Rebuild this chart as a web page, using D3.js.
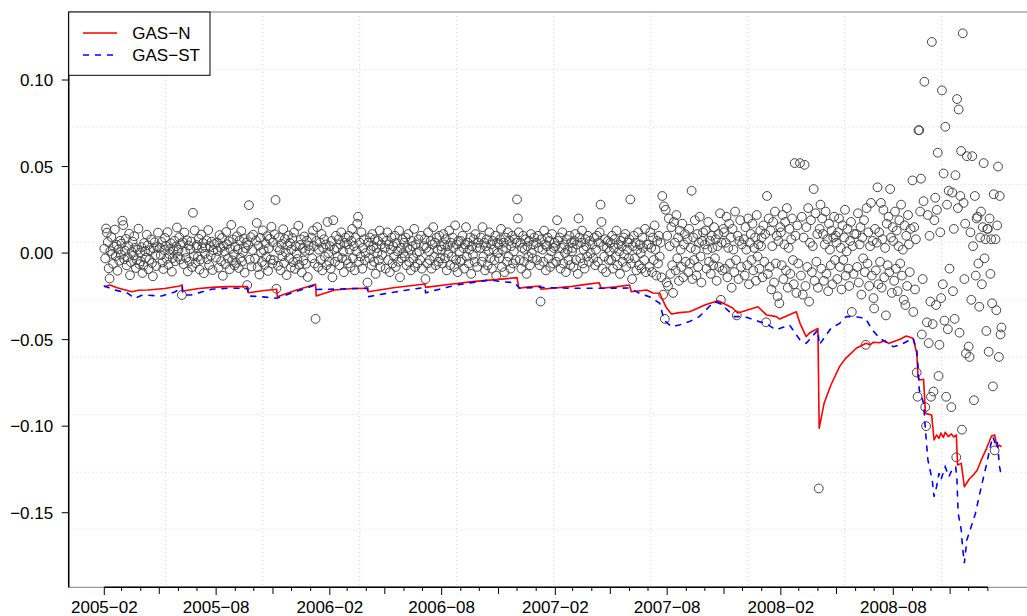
<!DOCTYPE html>
<html>
<head>
<meta charset="utf-8">
<script src="https://cdn.jsdelivr.net/npm/d3@7"></script>
<style>
  body { margin: 0; background: #fff; }
  svg { display: block; font-family: "Liberation Sans", Arial, sans-serif; }
</style>
</head>
<body>
<div id="chart"></div>
<script>
// months of daily returns, values in percent, in date order inside each month
const months = [
  '2005-02','2005-03','2005-04','2005-05','2005-06','2005-07','2005-08','2005-09','2005-10','2005-11','2005-12',
  '2006-01','2006-02','2006-03','2006-04','2006-05','2006-06','2006-07','2006-08','2006-09','2006-10','2006-11','2006-12',
  '2007-01','2007-02','2007-03','2007-04','2007-05','2007-06','2007-07','2007-08','2007-09','2007-10','2007-11','2007-12',
  '2008-01','2008-02','2008-03','2008-04','2008-05','2008-06','2008-07','2008-08','2008-09','2008-10','2008-11','2008-12',
  '2009-01'
];
const lastDay = '2009-01-23';

const returns = [
  [0.25,-0.31,1.42,1.18,0.64,-0.88,-1.47,0.12,0.93,-0.05,-0.62,0.38,1.36,-0.17,0.48,-1.02,0.21,-0.44,0.71,-0.09],
  [0.55,1.87,1.62,-0.36,0.14,0.82,-0.71,-0.23,0.41,1.12,-1.28,-0.52,0.07,0.66,-0.14,0.97,0.31,-0.86,-0.41,0.19,1.41,-0.64,0.03],
  [-0.48,0.34,-1.15,-0.72,0.58,0.11,-0.27,1.06,0.45,-0.93,-0.39,0.16,0.79,-0.58,-1.34,0.27,0.62,-0.11,-0.75,0.36,1.18],
  [0.31,-0.12,0.64,-0.54,-0.92,0.18,0.87,0.42,-0.33,1.21,-0.68,-0.06,0.24,0.56,-1.07,-0.29,0.13,0.71,-0.47,0.39,1.48,-0.21],
  [0.18,0.92,-0.37,0.51,-2.42,0.62,-0.64,1.19,0.08,-0.28,0.75,-1.06,0.44,-0.49,0.23,0.67,-0.81,2.33,-0.19,1.31,-0.57,0.35],
  [0.46,-0.21,0.83,-0.95,-0.38,1.07,0.29,0.58,-1.16,-0.04,0.34,0.74,-0.36,1.33,-0.69,0.41,-0.14,0.66,-0.98,0.17,0.52],
  [-0.26,0.61,0.12,-0.84,1.04,0.33,-0.47,0.88,-1.31,0.42,0.09,-0.63,1.22,0.51,-0.31,0.69,-0.93,0.24,1.63,-0.42,0.79,-0.08,-0.71],
  [0.38,-0.57,0.97,0.21,-0.86,0.73,-0.28,1.27,-0.49,0.06,0.84,-1.13,0.29,0.61,-1.85,0.47,2.77,-0.38,0.92,-0.77,0.18,1.06],
  [-0.33,0.72,1.74,-0.81,0.43,-1.24,0.88,0.04,-0.52,1.31,0.17,-0.69,0.57,-0.22,0.98,-1.03,0.28,0.83,-0.37,1.52,-0.61],
  [0.62,-0.41,1.08,3.07,-2.06,0.34,-0.73,0.91,0.16,-0.99,0.53,-0.18,1.38,-0.57,0.81,0.03,-1.27,0.44,1.02,-0.29,0.58,-0.83],
  [0.21,0.87,-0.53,1.19,-0.91,0.39,-0.02,-0.34,1.58,-0.68,0.47,0.79,-1.12,0.26,-0.43,0.96,0.13,-0.62,0.72,-1.38,0.41,0.17],
  [0.9,-0.3,1.3,0.4,-0.6,-3.8,0.7,1.5,-0.8,0.2,0.6,-0.4,1.1,-1.0,0.3,0.8,-0.2,0.5,-0.7,1.8,0.0,-0.5],
  [0.4,-0.9,0.7,-1.4,1.9,0.2,-0.5,1.0,0.3,-0.2,0.8,-0.7,0.5,1.2,-0.3,0.1,-1.1,0.6,0.9,-0.4],
  [0.5,-0.6,1.0,0.2,-0.8,0.7,1.4,-0.3,0.4,-1.0,0.9,0.1,1.7,2.1,-0.5,0.6,-0.2,1.2,-0.9,0.3,0.8,-0.4,0.0],
  [-1.7,0.6,-0.3,0.9,0.2,-0.7,1.1,0.4,-0.5,0.8,-1.2,0.3,0.0,0.7,-0.4,1.3,-0.8,0.5,-0.1,0.9],
  [0.3,-0.9,0.7,1.2,-0.4,0.5,-1.1,0.2,0.9,-0.6,0.4,-0.2,1.0,-0.8,0.6,0.1,-0.5,1.3,-1.4,0.3,-0.3,0.8,0.0],
  [0.6,-0.2,0.9,-0.7,0.3,1.1,-0.5,0.2,-1.0,0.7,0.4,-0.3,1.4,-0.8,0.5,0.0,-0.6,0.8,0.1,-0.4,1.0,-0.9],
  [0.4,0.8,-1.5,0.3,-0.6,1.2,0.1,-0.4,0.7,-0.9,0.5,1.5,-0.2,0.6,-0.7,0.9,0.2,-0.5,1.0,-0.3,0.4],
  [0.2,-0.6,1.1,0.5,-0.3,0.8,-1.0,0.4,0.0,1.3,-0.7,0.6,-0.2,0.9,0.3,-0.8,1.6,-0.4,0.5,-1.1,0.7,0.1,-0.5],
  [0.7,-0.4,1.0,0.3,-0.9,0.5,1.5,-0.2,0.6,-0.6,0.2,0.9,-1.2,0.4,-0.1,0.8,-0.5,1.1,0.3,-0.8,0.6],
  [0.3,0.9,-0.5,1.5,-0.2,0.6,-1.0,0.4,0.8,-0.7,0.1,1.2,-0.3,0.5,-0.9,0.7,0.2,-0.4,1.0,-1.3,0.6,0.0],
  [0.5,-0.3,0.8,1.4,-0.8,0.2,0.6,-1.1,0.9,0.3,-0.5,1.2,-0.2,0.7,-0.9,0.4,1.0,-0.6,0.1,0.8,-0.4,0.6],
  [3.1,2.0,1.2,-0.4,0.6,-0.9,0.3,1.0,-0.5,0.2,0.8,-1.2,0.4,-0.2,0.7,-0.7,1.1,0.0,-0.3,0.5,0.9],
  [0.6,-0.4,1.0,0.3,-0.7,-2.8,0.8,0.2,-0.5,1.3,0.5,-1.0,0.4,0.9,-0.3,0.7,-0.8,0.1,1.1,-0.6,0.3,0.6],
  [0.4,-0.5,1.9,0.7,-0.2,0.9,-0.9,0.3,1.2,-0.6,0.5,0.0,-1.1,0.8,0.2,-0.4,1.0,-0.7,0.6,0.1],
  [0.3,-0.8,0.7,1.1,-0.4,0.5,-1.2,2.0,0.9,-0.3,0.6,1.3,-0.6,0.2,-0.9,0.8,0.4,-0.2,1.0,-0.5,0.7,0.0],
  [0.5,-0.3,0.9,-0.7,0.2,1.0,-0.5,0.6,1.2,2.8,1.8,-0.9,0.4,-0.2,0.8,-1.1,0.3,0.7,-0.4,0.1],
  [0.6,-0.4,1.0,-0.9,0.3,0.8,-0.2,1.3,-0.7,0.5,0.1,-1.2,0.7,0.4,-0.5,0.9,-0.1,1.1,-0.8,0.2,0.6,-0.3],
  [0.8,3.1,-0.6,-1.5,0.4,1.0,-0.3,0.6,-1.0,0.2,1.2,-0.7,0.5,0.0,-0.9,0.9,0.3,-0.4,1.4,-1.1,0.5],
  [0.5,-0.8,1.2,0.3,-1.1,0.9,-0.4,1.6,0.2,-1.3,0.7,-0.6,1.0,-0.2,0.6,-1.4,3.3,-2.4,2.7,-3.8,2.5,-1.7],
  [1.0,-1.9,2.0,0.4,-1.2,1.5,-0.7,-2.3,1.8,0.6,-1.0,2.2,-0.3,0.9,-1.6,1.3,0.2,-0.8,1.7,-1.4,0.5,1.1,-0.5],
  [0.8,-1.1,1.4,-0.6,0.3,3.6,-1.5,0.9,-0.4,1.9,0.2,-1.3,1.1,-0.8,0.6,2.1,-0.2,-1.7,0.7,1.2],
  [0.5,1.3,-0.9,0.2,1.8,-0.5,0.7,-1.2,1.0,0.3,-0.7,1.5,-0.3,0.8,-1.6,0.4,1.1,-0.8,2.3,-2.7,0.6,-1.0,1.4],
  [1.2,-0.9,0.6,2.1,-1.4,0.3,1.7,-0.6,0.9,-2.0,1.4,0.2,-1.1,2.4,-0.4,-3.6,1.0,-1.5,0.7,1.9,-0.8,0.5],
  [0.8,-1.3,1.5,0.2,-0.7,2.0,-1.8,0.6,1.1,-0.4,1.7,-1.0,0.3,0.9,-1.6,2.2,-0.2,0.5,-0.9,1.3,0.4],
  [0.9,-1.4,1.6,-0.5,1.1,-4.0,3.3,-1.2,2.0,-0.8,1.3,-2.1,0.4,1.8,-1.7,2.4,-0.6,1.0,-2.5,0.7,-2.9,1.5],
  [1.2,-0.7,2.2,-1.5,0.5,1.8,-1.0,2.6,-2.0,0.3,1.4,-1.2,0.8,2.0,-0.4,-1.8,5.2,1.0,-2.3,1.6,-0.6],
  [5.2,-1.3,2.1,-2.4,0.9,5.1,-1.9,1.5,-0.8,2.6,-2.8,0.6,1.9,-1.1,0.4,3.7,-1.6,2.3,-0.5,1.1],
  [-2.0,-13.6,1.4,2.8,-0.9,2.0,1.1,-1.6,0.5,2.4,-1.2,0.8,-2.2,1.7,0.2,-0.7,1.3,-1.8,0.9,2.1,-0.4,1.0],
  [0.6,-1.5,1.2,2.0,-0.8,0.3,-2.1,1.6,-0.4,0.9,2.5,-1.3,0.1,1.4,-0.9,-1.9,0.7,1.8,-3.4,0.4,-1.2,1.1],
  [1.1,-0.8,2.3,-1.7,0.5,1.5,-2.4,0.9,-0.3,1.9,-1.1,-5.3,2.6,-0.6,1.2,-1.9,0.4,2.9,-1.3,0.7,-2.6],
  [-3.2,1.4,-1.0,0.6,3.8,-1.8,1.2,-0.5,2.9,-2.0,0.8,2.5,-1.4,0.3,-3.6,1.7,-0.7,2.1,-1.1,3.7,0.9,-2.3,1.5],
  [0.7,-1.6,2.4,-0.9,1.3,-2.2,0.4,1.9,-0.6,2.8,-1.3,0.2,-2.7,1.6,-3.0,1.0,-1.9,2.2,0.5,-1.1,1.4],
  [4.2,-3.4,1.5,-2.1,0.8,-6.9,-8.3,7.1,7.1,2.4,4.3,-4.7,-1.5,3.0,9.9,-8.9,-10.0,-4.0,2.2,-5.2,1.0,-2.8],
  [-8.3,12.2,-4.1,-8.0,1.9,3.2,-3.0,2.5,5.8,-7.1,-5.3,1.2,-2.6,9.4,-1.8,4.6,-3.9,7.3,-8.3,2.8,-4.4,3.6,-0.9],
  [-8.9,3.5,-2.2,1.4,-3.8,4.5,-11.8,8.9,2.6,8.3,-4.6,3.3,5.9,-10.2,12.7,2.9,-1.5,1.7,-5.8,5.6],
  [-5.4,-6.0,1.2,-2.7,5.6,0.4,-8.5,3.3,-1.3,2.0,2.1,-0.6,-3.1,0.9,2.4,-1.8,1.5,5.2,-0.3,0.8,-4.5,1.4],
  [1.4,-5.7,2.0,-1.2,0.8,-2.9,-7.7,3.4,-11.4,0.8,-3.3,1.6,5.0,-6.0,3.3,-4.7,-4.3]
];

// VaR estimates, [date, percent]
const varN = [
  ['2005-02-01',-1.96],['2005-02-10',-1.84],['2005-02-22',-2.00],['2005-03-04',-2.10],['2005-03-18',-2.23],
  ['2005-03-28',-2.15],['2005-04-12',-2.13],['2005-05-10',-2.05],['2005-06-03',-1.90],['2005-06-07',-1.84],
  ['2005-06-08',-2.19],['2005-07-04',-2.05],['2005-07-25',-1.98],['2005-08-18',-1.94],['2005-09-21',-1.94],
  ['2005-09-22',-2.29],['2005-10-15',-2.18],['2005-11-07',-2.09],['2005-11-08',-2.52],['2005-12-08',-2.15],
  ['2006-01-09',-1.80],['2006-01-10',-2.48],['2006-02-09',-2.13],['2006-03-10',-2.05],['2006-04-03',-2.03],
  ['2006-04-04',-2.23],['2006-05-15',-2.00],['2006-07-05',-1.79],['2006-07-06',-1.98],['2006-08-15',-1.80],
  ['2006-09-20',-1.65],['2006-11-01',-1.52],['2006-12-01',-1.42],['2006-12-04',-2.03],['2006-12-20',-1.95],
  ['2007-01-08',-1.90],['2007-01-09',-2.09],['2007-02-24',-1.94],['2007-03-20',-1.82],['2007-04-13',-1.71],
  ['2007-04-16',-2.03],['2007-05-10',-1.95],['2007-06-01',-1.84],['2007-06-04',-2.23],['2007-06-29',-2.13],
  ['2007-07-09',-2.31],['2007-07-20',-2.32],['2007-07-24',-2.65],['2007-07-30',-3.11],['2007-08-03',-3.30],
  ['2007-08-08',-3.52],['2007-08-21',-3.44],['2007-09-06',-3.39],['2007-09-12',-3.30],['2007-10-01',-3.00],
  ['2007-10-22',-2.75],['2007-10-26',-2.81],['2007-11-15',-3.17],['2007-11-23',-3.46],['2007-11-30',-3.39],
  ['2007-12-26',-3.10],['2008-01-09',-3.58],['2008-01-25',-3.67],['2008-01-30',-3.81],['2008-02-26',-3.39],
  ['2008-03-03',-4.06],['2008-03-13',-4.83],['2008-03-18',-4.63],['2008-03-24',-4.50],['2008-04-01',-4.35],
  ['2008-04-03',-10.12],['2008-04-07',-9.40],['2008-04-11',-8.68],['2008-04-22',-7.62],['2008-05-06',-6.56],
  ['2008-05-16',-6.08],['2008-06-02',-5.50],['2008-06-18',-5.21],['2008-06-24',-5.30],['2008-06-30',-5.15],
  ['2008-07-10',-5.18],['2008-07-18',-5.05],['2008-07-24',-5.22],['2008-08-01',-5.12],['2008-08-12',-4.98],
  ['2008-08-22',-4.79],['2008-09-02',-4.92],['2008-09-08',-5.79],['2008-09-10',-7.14],['2008-09-12',-7.33],
  ['2008-09-19',-7.29],['2008-09-22',-9.26],['2008-10-02',-9.35],['2008-10-06',-10.80],['2008-10-10',-10.51],
  ['2008-10-14',-10.70],['2008-10-17',-10.40],['2008-10-21',-10.65],['2008-10-24',-10.35],['2008-10-29',-10.60],
  ['2008-11-03',-10.45],['2008-11-07',-10.62],['2008-11-11',-10.51],['2008-11-13',-12.24],['2008-11-19',-12.15],
  ['2008-11-24',-13.50],['2008-12-02',-13.05],['2008-12-09',-12.80],['2008-12-15',-12.53],['2008-12-22',-11.90],
  ['2008-12-30',-11.28],['2009-01-07',-10.57],['2009-01-12',-10.51],['2009-01-16',-11.19],['2009-01-20',-11.10],
  ['2009-01-23',-11.19]
];

const varST = [
  ['2005-02-01',-1.90],['2005-02-18',-2.13],['2005-03-11',-2.32],['2005-03-22',-2.61],['2005-04-04',-2.42],
  ['2005-05-05',-2.48],['2005-05-27',-2.23],['2005-06-07',-1.94],['2005-06-08',-2.42],['2005-06-21',-2.42],
  ['2005-07-25',-2.09],['2005-08-20',-2.03],['2005-09-21',-2.03],['2005-09-22',-2.48],['2005-10-13',-2.52],
  ['2005-11-07',-2.61],['2005-12-10',-2.20],['2006-01-09',-1.84],['2006-01-10',-2.10],['2006-02-01',-2.09],
  ['2006-04-03',-2.03],['2006-04-04',-2.52],['2006-05-20',-2.23],['2006-07-05',-1.98],['2006-07-06',-2.29],
  ['2006-08-25',-1.84],['2006-10-18',-1.55],['2006-11-06',-1.65],['2006-11-27',-1.71],['2006-12-05',-2.03],
  ['2007-01-08',-1.98],['2007-02-24',-2.03],['2007-04-13',-2.03],['2007-06-01',-2.02],['2007-06-17',-2.32],
  ['2007-07-03',-2.52],['2007-07-20',-2.90],['2007-07-27',-3.87],['2007-08-08',-4.25],['2007-08-21',-4.15],
  ['2007-09-06',-3.96],['2007-09-22',-3.67],['2007-10-16',-2.81],['2007-10-26',-2.90],['2007-11-18',-3.67],
  ['2007-12-04',-3.67],['2007-12-28',-3.96],['2008-01-08',-4.06],['2008-01-24',-4.44],['2008-02-15',-4.15],
  ['2008-03-03',-5.02],['2008-03-13',-5.21],['2008-04-01',-4.44],['2008-04-03',-5.31],['2008-04-22',-4.35],
  ['2008-05-06',-4.06],['2008-05-17',-3.67],['2008-05-30',-3.67],['2008-06-17',-3.77],['2008-06-28',-4.44],
  ['2008-07-10',-4.92],['2008-08-01',-5.41],['2008-08-12',-5.31],['2008-09-02',-4.92],['2008-09-08',-5.60],
  ['2008-09-10',-6.56],['2008-09-12',-7.91],['2008-09-19',-8.68],['2008-09-22',-10.22],['2008-09-26',-11.95],
  ['2008-10-03',-13.11],['2008-10-06',-14.08],['2008-10-10',-13.50],['2008-10-14',-12.72],['2008-10-17',-13.11],
  ['2008-10-24',-12.34],['2008-10-30',-12.92],['2008-11-04',-12.53],['2008-11-10',-12.34],['2008-11-12',-13.11],
  ['2008-11-14',-15.03],['2008-11-19',-16.00],['2008-11-21',-16.96],['2008-11-24',-17.92],['2008-11-28',-16.58],
  ['2008-12-05',-15.81],['2008-12-12',-15.03],['2008-12-19',-13.88],['2008-12-29',-12.34],['2009-01-05',-11.19],
  ['2009-01-09',-10.61],['2009-01-13',-10.99],['2009-01-16',-10.80],['2009-01-20',-12.34],['2009-01-23',-12.92]
];

const seriesNames = ['GAS\u2212N', 'GAS\u2212ST'];
const yTicks = [-0.15, -0.10, -0.05, 0, 0.05, 0.10];

const svgWidth = 1027, svgHeight = 616;
const plot = { left: 68.7, right: 1038.7, top: 12, bottom: 587.3 };

const parseDay = d3.utcParse('%Y-%m-%d');
const parseMonth = d3.utcParse('%Y-%m');

const svg = d3.select('#chart').append('svg')
    .attr('width', svgWidth)
    .attr('height', svgHeight);

// x: calendar time, y: return
const x = d3.scaleUtc()
    .domain([parseDay('2005-02-01'), parseDay('2008-08-01')])
    .range([104.3, 893.3]);
const y = d3.scaleLinear()
    .domain([-0.1931, 0.1393])
    .range([plot.bottom, plot.top]);

// spread each month's returns over its trading days
const points = [];
months.forEach((m, i) => {
    const start = parseMonth(m);
    const days = d3.utcDay.range(start, d3.utcMonth.offset(start, 1)).filter(d => d.getUTCDay() % 6 !== 0);
    const first = days[0];
    const last = i === months.length - 1 ? parseDay(lastDay) : days[days.length - 1];
    const vals = returns[i];
    vals.forEach((v, j) => {
        const t = j / (vals.length - 1);
        points.push({ date: new Date(+first + t * (last - first)), value: v / 100 });
    });
});

svg.append('clipPath').attr('id', 'clip')
    .append('rect')
    .attr('x', plot.left).attr('y', plot.top)
    .attr('width', plot.right - plot.left).attr('height', plot.bottom - plot.top);

// dotted grid, 10 equal cells each way
const grid = svg.append('g').attr('clip-path', 'url(#clip)')
    .style('stroke', '#d3d3d3').style('stroke-dasharray', '1,3').style('stroke-width', 1);
d3.range(1, 10).forEach(k => {
    const gx = plot.left + k * (plot.right - plot.left) / 10;
    const gy = plot.top + k * (plot.bottom - plot.top) / 10;
    grid.append('line').attr('x1', gx).attr('x2', gx).attr('y1', plot.top).attr('y2', plot.bottom);
    grid.append('line').attr('x1', plot.left).attr('x2', plot.right).attr('y1', gy).attr('y2', gy);
});

const body = svg.append('g').attr('clip-path', 'url(#clip)');

body.selectAll('circle.ret')
    .data(points).enter()
    .append('circle').attr('class', 'ret')
    .attr('cx', d => x(d.date))
    .attr('cy', d => y(d.value))
    .attr('r', 4.4)
    .style('fill', 'none')
    .style('stroke', '#444')
    .style('stroke-width', 1);

const line = d3.line()
    .x(d => x(parseDay(d[0])))
    .y(d => y(d[1] / 100));

body.append('path')
    .attr('d', line(varN))
    .style('fill', 'none').style('stroke', '#ff0000').style('stroke-width', 1.6)
    .style('stroke-linejoin', 'round');

body.append('path')
    .attr('d', line(varST))
    .style('fill', 'none').style('stroke', '#0000ff').style('stroke-width', 1.6)
    .style('stroke-dasharray', '5,7').style('stroke-linecap', 'round');

// box and axes
svg.append('rect')
    .attr('x', plot.left).attr('y', plot.top)
    .attr('width', plot.right - plot.left).attr('height', plot.bottom - plot.top)
    .style('fill', 'none').style('stroke', '#808080').style('stroke-width', 1);

svg.append('line')
    .attr('x1', plot.left).attr('x2', plot.left).attr('y1', plot.top).attr('y2', plot.bottom)
    .style('stroke', '#000').style('stroke-width', 1.5);

const yAxis = svg.append('g');
yTicks.forEach(t => {
    yAxis.append('line')
        .attr('x1', plot.left - 7).attr('x2', plot.left)
        .attr('y1', y(t)).attr('y2', y(t))
        .style('stroke', '#000');
    yAxis.append('text')
        .attr('x', plot.left - 15.5).attr('y', y(t) + 6)
        .style('text-anchor', 'end').style('font-size', '17px')
        .text(d3.format('.2f')(t).replace('-', '\u2212'));
});

const monthTicks = d3.utcMonth.range(parseDay('2005-02-01'), parseDay('2009-02-01'));
const xAxis = svg.append('g');
xAxis.append('line')
    .attr('x1', x(monthTicks[0])).attr('x2', x(monthTicks[monthTicks.length - 1]))
    .attr('y1', plot.bottom).attr('y2', plot.bottom)
    .style('stroke', '#000').style('stroke-width', 1.5);
monthTicks.forEach(d => {
    const mo = d.getUTCMonth();
    const major = mo === 1 || mo === 7;
    const mid = mo === 4 || mo === 10;
    const len = major ? 7.7 : (mid ? 6.7 : 3.7);
    xAxis.append('line')
        .attr('x1', x(d)).attr('x2', x(d))
        .attr('y1', plot.bottom).attr('y2', plot.bottom + len)
        .style('stroke', '#000');
    if (major) {
        xAxis.append('text')
            .attr('x', x(d)).attr('y', 613)
            .style('text-anchor', 'middle').style('font-size', '17px')
            .text(d3.utcFormat('%Y')(d) + '\u2212' + d3.utcFormat('%m')(d));
    }
});

// legend
const legend = svg.append('g');
legend.append('rect')
    .attr('x', plot.left).attr('y', plot.top)
    .attr('width', 141.3).attr('height', 63.3)
    .style('fill', '#fff').style('stroke', '#000').style('stroke-width', 1);
const legendStyle = [
    { color: '#ff0000', dash: null },
    { color: '#0000ff', dash: '6,6' }
];
seriesNames.forEach((name, i) => {
    const ly = 33 + i * 22;
    legend.append('line')
        .attr('x1', 83).attr('x2', 117).attr('y1', ly).attr('y2', ly)
        .style('stroke', legendStyle[i].color).style('stroke-width', 1.6)
        .style('stroke-dasharray', legendStyle[i].dash);
    legend.append('text')
        .attr('x', 132.3).attr('y', ly + 6)
        .style('font-size', '17px')
        .text(name);
});
</script>
</body>
</html>
